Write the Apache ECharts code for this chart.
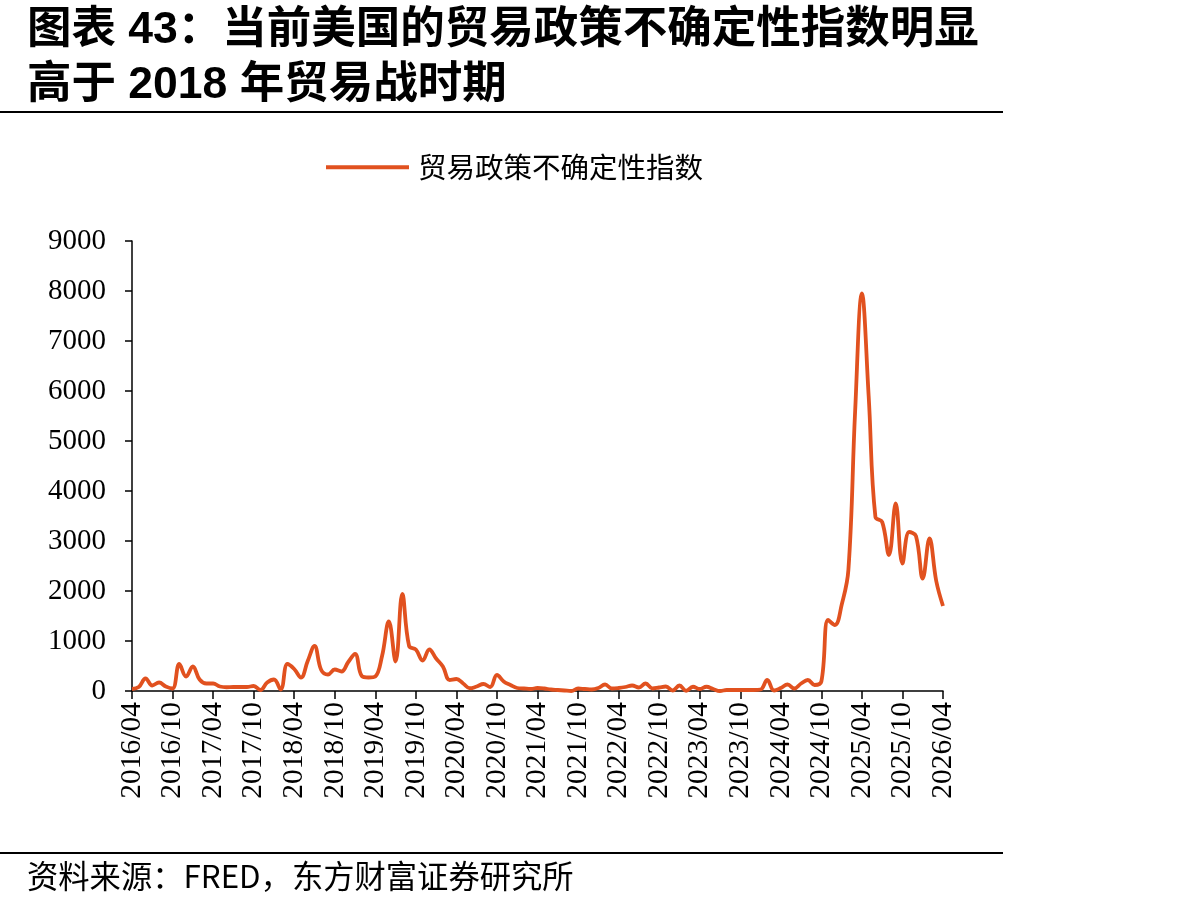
<!DOCTYPE html>
<html>
<head>
<meta charset="utf-8">
<script src="https://cdn.jsdelivr.net/npm/echarts@6/dist/echarts.min.js"></script>
<style>
html,body{margin:0;padding:0;background:#fff;}
#chart{width:1193px;height:906px;}
</style>
</head>
<body>
<div id="chart"></div>
<script>
const titleLine1 = '图表 43：当前美国的贸易政策不确定性指数明显';
const titleLine2 = '高于 2018 年贸易战时期';
const sourceText = '资料来源：FRED，东方财富证券研究所';
const seriesName = '贸易政策不确定性指数';

const categories = [
  '2016/04','2016/05','2016/06','2016/07','2016/08','2016/09','2016/10','2016/11','2016/12',
  '2017/01','2017/02','2017/03','2017/04','2017/05','2017/06','2017/07','2017/08','2017/09','2017/10','2017/11','2017/12',
  '2018/01','2018/02','2018/03','2018/04','2018/05','2018/06','2018/07','2018/08','2018/09','2018/10','2018/11','2018/12',
  '2019/01','2019/02','2019/03','2019/04','2019/05','2019/06','2019/07','2019/08','2019/09','2019/10','2019/11','2019/12',
  '2020/01','2020/02','2020/03','2020/04','2020/05','2020/06','2020/07','2020/08','2020/09','2020/10','2020/11','2020/12',
  '2021/01','2021/02','2021/03','2021/04','2021/05','2021/06','2021/07','2021/08','2021/09','2021/10','2021/11','2021/12',
  '2022/01','2022/02','2022/03','2022/04','2022/05','2022/06','2022/07','2022/08','2022/09','2022/10','2022/11','2022/12',
  '2023/01','2023/02','2023/03','2023/04','2023/05','2023/06','2023/07','2023/08','2023/09','2023/10','2023/11','2023/12',
  '2024/01','2024/02','2024/03','2024/04','2024/05','2024/06','2024/07','2024/08','2024/09','2024/10','2024/11','2024/12',
  '2025/01','2025/02','2025/03','2025/04','2025/05','2025/06','2025/07','2025/08','2025/09','2025/10','2025/11','2025/12',
  '2026/01','2026/02','2026/03','2026/04'
];

const tpuValues = [
  40, 80, 250, 110, 170, 90, 50, 540, 290,
  490, 230, 150, 150, 90, 75, 80, 80, 80, 100, 20, 170,
  230, 30, 540, 440, 270, 600, 900, 420, 330, 430, 390, 580,
  740, 300, 270, 290, 700, 1390, 590, 1940, 900, 830, 610, 830,
  650, 490, 220, 240, 150, 55, 90, 140, 80, 320, 190, 120,
  60, 50, 40, 60, 50, 30, 20, 10, 0, 50, 40, 30,
  60, 130, 50, 60, 80, 110, 70, 150, 50, 70, 90, 10,
  110, 5, 85, 40, 85, 40, 0, 20, 20, 20, 20, 20,
  30, 220, 10, 60, 130, 50, 150, 220, 120, 190, 1420, 1320,
  1720, 2420, 5600, 7950, 5900, 3480, 3380, 2720, 3750, 2550, 3180, 3100,
  2250, 3050, 2200, 1700
];

const yTicks = [0, 1000, 2000, 3000, 4000, 5000, 6000, 7000, 8000, 9000];

const chart = echarts.init(document.getElementById('chart'), null, {renderer: 'canvas'});
const serif = '"Liberation Serif","Times New Roman",serif';
const cjkBold = '"Liberation Sans","Noto Sans CJK SC",sans-serif';

chart.setOption({
  backgroundColor: '#fff',
  animation: false,
  graphic: [
    {type: 'text', x: 27, y: 31, style: {text: titleLine1, fontSize: 44.5, fontWeight: 'bold', fontFamily: cjkBold, fill: '#000', verticalAlign: 'middle'}},
    {type: 'text', x: 27, y: 86, style: {text: titleLine2, fontSize: 44.5, fontWeight: 'bold', fontFamily: cjkBold, fill: '#000', verticalAlign: 'middle'}},
    {type: 'line', shape: {x1: 0, y1: 112, x2: 1003, y2: 112}, style: {stroke: '#000', lineWidth: 2}},
    {type: 'line', shape: {x1: 0, y1: 853, x2: 1003, y2: 853}, style: {stroke: '#000', lineWidth: 2}},
    {type: 'text', x: 27, y: 876, style: {text: sourceText, fontSize: 31.3, fontFamily: '"Noto Sans CJK SC","Liberation Sans",sans-serif', fill: '#000', verticalAlign: 'middle'}}
  ],
  legend: {
    left: 321, top: 148,
    icon: 'rect', itemWidth: 83, itemHeight: 4, itemGap: 10,
    textStyle: {fontSize: 28.5, fontFamily: '"Noto Sans CJK SC",sans-serif', color: '#000', padding: [0, 0, 0, 4]},
    data: [seriesName]
  },
  grid: {left: 132, right: 250, top: 241, bottom: 215, containLabel: false},
  xAxis: {
    type: 'category', boundaryGap: false, data: categories,
    axisLine: {lineStyle: {color: '#000', width: 1.5}},
    axisTick: {interval: 5, length: 8, lineStyle: {color: '#000', width: 1.5}},
    axisLabel: {interval: 5, rotate: 90, fontFamily: serif, fontSize: 29.5, color: '#000', margin: 11},
    splitLine: {show: false}
  },
  yAxis: {
    type: 'value', min: yTicks[0], max: yTicks[yTicks.length - 1], interval: 1000,
    axisLine: {show: true, lineStyle: {color: '#000', width: 1.5}},
    axisTick: {show: true, length: 7, lineStyle: {color: '#000', width: 1.5}},
    axisLabel: {fontFamily: serif, fontSize: 29, color: '#000', margin: 26, formatter: function (v) { return String(v); }},
    splitLine: {show: false}
  },
  series: [{
    name: seriesName, type: 'line', data: tpuValues,
    smooth: 0.4, showSymbol: false, symbol: 'none',
    lineStyle: {color: '#E1511F', width: 3.8},
    itemStyle: {color: '#E1511F'}
  }]
});
</script>
</body>
</html>
